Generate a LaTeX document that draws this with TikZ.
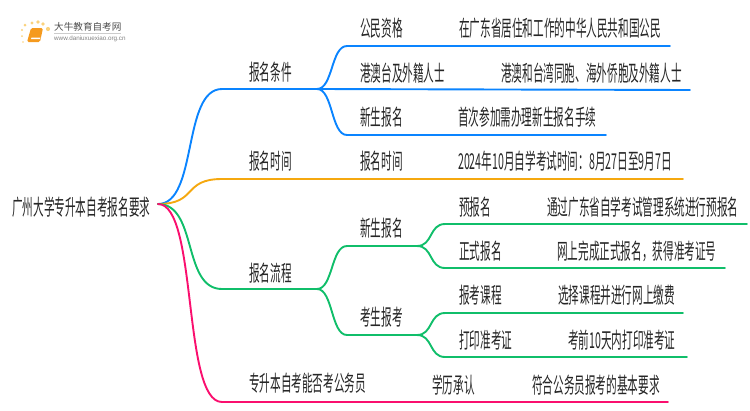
\documentclass[tikz,border=0pt]{standalone}
\usepackage{fontspec}
\setmainfont{Noto Sans CJK SC}[FakeStretch=.485]
\newfontfamily\logofont{Noto Sans CJK SC}
\newfontfamily\urlfont{Liberation Sans}
\definecolor{bluebranch}{HTML}{0A84FF}
\definecolor{orangebranch}{HTML}{F5A80F}
\definecolor{greenbranch}{HTML}{10BE6A}
\definecolor{pinkbranch}{HTML}{FA0F6E}
\definecolor{booktone}{HTML}{F59A1E}
\definecolor{sundot}{HTML}{FAD27D}
\tikzset{
  label/.style={anchor=west,inner sep=0pt,text=black!85,font=\fontsize{21.9}{22}\selectfont},
  wire/.style={line width=1.9pt,line cap=round,line join=round}
}
\begin{document}
\begin{tikzpicture}
  [x=1pt,y=-1pt]
  \useasboundingbox (0,0) rectangle (750,410);

  % logo
  \foreach \dotx/\doty/\dotr in {25/25/1.5,32/23/1.7,38/22/1.9,43/24/1.9,48/29/2.1,22/30/1.2,22/36/1,23/42/.8}
    \fill[sundot] (\dotx,\doty) circle (\dotr);
  \fill[booktone,rounded corners=1.5pt] (31,28) -- (43,28) -- (40,42) -- (27,42) -- cycle;
  \fill[white] (31.5,37.5) -- (40.5,37.5) -- (40,39) -- (31,39) -- cycle;
  \node (logotitle)[anchor=west,inner sep=0pt,text=black!70,font=\logofont\fontsize{9.6}{10}\selectfont] at (54,27) {大牛教育自考网};
  \node (logourl)[anchor=west,inner sep=0pt,text=black!50,font=\urlfont\fontsize{6.3}{7}\selectfont] at (54,38.5) {www.daniuxuexiao.org.cn};
  \coordinate (rulea) at (54,33.5);
  \coordinate (ruleb) at (121,33.5);
  \draw[black!20,line width=.5pt] (rulea) -- (ruleb);

  % texts
  \node (root)[label] at (12,207) {广州大学专升本自考报名要求};
  \node (t1)[label] at (249,72) {报名条件};
  \node (t2)[label] at (249,161) {报名时间};
  \node (t3)[label] at (249,273) {报名流程};
  \node (t4)[label] at (249,383) {专升本自考能否考公务员};
  \node (t11)[label] at (360,28) {公民资格};
  \node (t12)[label] at (360,73) {港澳台及外籍人士};
  \node (t13)[label] at (360,117) {新生报名};
  \node (t21)[label] at (360,161) {报名时间};
  \node (t31)[label] at (360,228) {新生报名};
  \node (t32)[label] at (360,317) {考生报考};
  \node (t41)[label] at (432,385) {学历承认};
  \node (d11)[label] at (459,28) {在广东省居住和工作的中华人民共和国公民};
  \node (d12)[label] at (501,73) {港澳和台湾同胞、海外侨胞及外籍人士};
  \node (d13)[label] at (458,117) {首次参加需办理新生报名手续};
  \node (d21)[label] at (458,161) {2024年10月自学考试时间：8月27日至9月7日};
  \node (t311)[label] at (459,207) {预报名};
  \node (t312)[label] at (459,251) {正式报名};
  \node (t321)[label] at (459,295) {报考课程};
  \node (t322)[label] at (459,340) {打印准考证};
  \node (d311)[label] at (547,207) {通过广东省自学考试管理系统进行预报名};
  \node (d312)[label] at (557,251) {网上完成正式报名，获得准考证号};
  \node (d321)[label] at (558,295) {选择课程并进行网上缴费};
  \node (d322)[label] at (568,340) {考前10天内打印准考证};
  \node (d41)[label] at (532,385) {符合公务员报考的基本要求};

  % line ends
  \coordinate (hub) at (158,204);
  \coordinate (a1) at (222,89);   \coordinate (f1) at (317,89);
  \coordinate (a2) at (222,179);  \coordinate (e2) at (683,179);
  \coordinate (a3) at (222,289);  \coordinate (f3) at (317,289);
  \coordinate (a4) at (222,402);  \coordinate (e4) at (668,402);
  \coordinate (a11) at (347,46);  \coordinate (e11) at (670,46);
  \coordinate (e12) at (690,90);
  \coordinate (a13) at (347,135); \coordinate (e13) at (606,135);
  \coordinate (a31) at (347,246); \coordinate (f31) at (417,246);
  \coordinate (a32) at (347,335); \coordinate (f32) at (417,335);
  \coordinate (a311) at (445,224); \coordinate (e311) at (747,224);
  \coordinate (a312) at (445,268); \coordinate (e312) at (725,268);
  \coordinate (a321) at (445,313); \coordinate (e321) at (683,313);
  \coordinate (a322) at (445,357); \coordinate (e322) at (687,357);

  \foreach \from/\to/\tone in {hub/a1/bluebranch,hub/a2/orangebranch,hub/a3/greenbranch,hub/a4/pinkbranch}
    \draw[wire,\tone] (\from) .. controls +(40,0) and +(-40,0) .. (\to);

  \foreach \from/\to/\tone in {f1/a11/bluebranch,f1/a13/bluebranch,f3/a31/greenbranch,f3/a32/greenbranch,f31/a311/greenbranch,f31/a312/greenbranch,f32/a321/greenbranch,f32/a322/greenbranch}
    \draw[wire,\tone] (\from) .. controls +(16,0) and +(-16,0) .. (\to);

  \foreach \from/\to/\tone in {a1/f1/bluebranch,f1/e12/bluebranch,a11/e11/bluebranch,a13/e13/bluebranch,a2/e2/orangebranch,a3/f3/greenbranch,a31/f31/greenbranch,a32/f32/greenbranch,a311/e311/greenbranch,a312/e312/greenbranch,a321/e321/greenbranch,a322/e322/greenbranch,a4/e4/pinkbranch}
    \draw[wire,\tone] (\from) -- (\to);

\end{tikzpicture}
\end{document}
